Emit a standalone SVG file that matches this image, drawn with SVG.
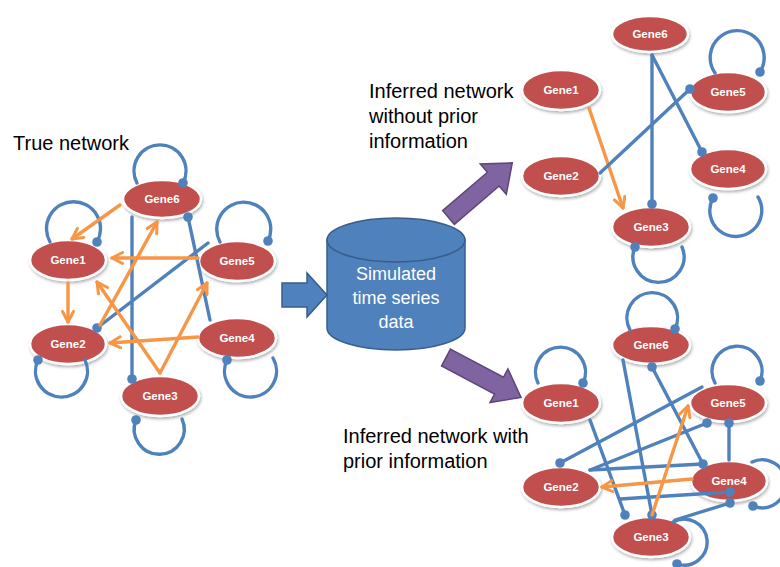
<svg xmlns="http://www.w3.org/2000/svg" width="780" height="567" viewBox="0 0 780 567">
<defs>
<filter id="sh" x="-20%" y="-20%" width="140%" height="150%">
<feDropShadow dx="1" dy="2" stdDeviation="1.5" flood-color="#000" flood-opacity="0.3"/>
</filter>
<marker id="ah" viewBox="0 0 14 14" refX="12" refY="7" markerWidth="14" markerHeight="14" markerUnits="userSpaceOnUse" orient="auto">
<path d="M1.5,1.5 L12,7 L1.5,12.5" fill="none" stroke="#F79646" stroke-width="3" stroke-linecap="round" stroke-linejoin="round"/>
</marker>
</defs>
<style>
.node ellipse{fill:#C0504D;stroke:#fff;stroke-width:2.5;filter:url(#sh)}
.node text{fill:#fff;font-family:"Liberation Sans",Arial,sans-serif;font-size:11.5px;font-weight:bold;text-anchor:middle}
.b{stroke:#4F81BD;stroke-width:3.4;fill:none;stroke-linecap:round}
.o{stroke:#F79646;stroke-width:3.4;fill:none;stroke-linecap:round;marker-end:url(#ah)}
.d{fill:#4F81BD}
.lbl{font-family:"Liberation Sans",Arial,sans-serif;font-size:20px;fill:#000}
.cyl{fill:#4F81BD;stroke:#385D8A;stroke-width:1.5}
.ct{font-family:"Liberation Sans",Arial,sans-serif;font-size:18px;fill:#fff;text-anchor:middle}
.pa{fill:#8064A2;stroke:#5C4776;stroke-width:1.5}
</style>

<text class="lbl" x="13" y="150">True network</text>
<text class="lbl" x="369" y="98">Inferred network</text>
<text class="lbl" x="369" y="123">without prior</text>
<text class="lbl" x="369" y="148">information</text>
<text class="lbl" x="343" y="443">Inferred network with</text>
<text class="lbl" x="343" y="468">prior information</text>

<g id="cylinder">
<path class="cyl" d="M327,240 L327,328 A69,22 0 0 0 465,328 L465,240 Z"/>
<ellipse class="cyl" cx="396" cy="240" rx="69" ry="22"/>
<text class="ct" x="396" y="280">Simulated</text>
<text class="ct" x="396" y="304">time series</text>
<text class="ct" x="396" y="328">data</text>
</g>
<g id="arrows">
<polygon class="cyl" points="282,283 307,283 307,273 327,295 307,317 307,307 282,307"/>
<polygon class="pa" points="0,-9 59,-9 59,-20 84,0 59,20 59,9 0,9" transform="translate(448.5,217.5) rotate(-40.6)"/>
<polygon class="pa" points="0,-9.5 60,-9.5 60,-19 85,0 60,19 60,9.5 0,9.5" transform="translate(446,357.5) rotate(28)"/>
</g>

<g id="true-network">
<g id="t-gene6" class="node"><ellipse cx="162" cy="199" rx="39" ry="19"/><text x="162" y="203">Gene6</text></g>
<g id="t-gene1" class="node"><ellipse cx="68" cy="260" rx="38" ry="20"/><text x="68" y="264">Gene1</text></g>
<g id="t-gene5" class="node"><ellipse cx="237" cy="261" rx="38" ry="20"/><text x="237" y="265">Gene5</text></g>
<g id="t-gene2" class="node"><ellipse cx="68" cy="344" rx="38" ry="20"/><text x="68" y="348">Gene2</text></g>
<g id="t-gene4" class="node"><ellipse cx="237" cy="338" rx="39" ry="20"/><text x="237" y="342">Gene4</text></g>
<g id="t-gene3" class="node"><ellipse cx="160" cy="396" rx="39" ry="20"/><text x="160" y="400">Gene3</text></g>
</g>

<g id="inferred-without">
<g id="a-gene6" class="node"><ellipse cx="650" cy="34" rx="38" ry="18"/><text x="650" y="38">Gene6</text></g>
<g id="a-gene1" class="node"><ellipse cx="561" cy="90" rx="39" ry="20"/><text x="561" y="94">Gene1</text></g>
<g id="a-gene5" class="node"><ellipse cx="728" cy="92" rx="38" ry="20"/><text x="728" y="96">Gene5</text></g>
<g id="a-gene2" class="node"><ellipse cx="561" cy="176" rx="39" ry="20"/><text x="561" y="180">Gene2</text></g>
<g id="a-gene4" class="node"><ellipse cx="728" cy="169" rx="38" ry="20"/><text x="728" y="173">Gene4</text></g>
<g id="a-gene3" class="node"><ellipse cx="651" cy="227" rx="39" ry="20"/><text x="651" y="231">Gene3</text></g>
</g>

<g id="inferred-with">
<g id="p-gene6" class="node"><ellipse cx="651" cy="345" rx="39" ry="19"/><text x="651" y="349">Gene6</text></g>
<g id="p-gene1" class="node"><ellipse cx="561" cy="403" rx="39" ry="20"/><text x="561" y="407">Gene1</text></g>
<g id="p-gene5" class="node"><ellipse cx="728" cy="403" rx="38" ry="19"/><text x="728" y="407">Gene5</text></g>
<g id="p-gene2" class="node"><ellipse cx="561" cy="487" rx="39" ry="20"/><text x="561" y="491">Gene2</text></g>
<g id="p-gene4" class="node"><ellipse cx="729" cy="481" rx="38" ry="20"/><text x="729" y="485">Gene4</text></g>
<g id="p-gene3" class="node"><ellipse cx="651" cy="537" rx="39" ry="20"/><text x="651" y="541">Gene3</text></g>
</g>

<g id="connectors">
<path class="b" d="M137,183 A26,26 0 1 1 183,183"/><circle class="d" cx="183" cy="183" r="4.8"/>
<path class="b" d="M50,242 A27,27 0 1 1 97,242"/><circle class="d" cx="97" cy="242" r="4.8"/>
<path class="b" d="M220,242 A27,27 0 1 1 268,241"/><circle class="d" cx="268" cy="241" r="4.8"/>
<path class="b" d="M38,360 A26,26 0 1 0 85,360"/><circle class="d" cx="38" cy="360" r="4.8"/>
<path class="b" d="M227,360 A26,26 0 1 0 273,358"/><circle class="d" cx="227" cy="360" r="4.8"/>
<path class="b" d="M136,420 A25,25 0 1 0 182,419"/><circle class="d" cx="136" cy="420" r="4.8"/>
<path class="b" d="M132,217 L132,379"/><circle class="d" cx="132" cy="379" r="4.8"/>
<path class="b" d="M210,320 L188,217"/><circle class="d" cx="188" cy="217" r="4.8"/>
<path class="b" d="M208,243 L97,328"/><circle class="d" cx="97" cy="328" r="4.8"/>
<path class="o" d="M120,205 L72,239"/>
<path class="o" d="M198,258 L112,258"/>
<path class="o" d="M68,283 L68,322"/>
<path class="o" d="M198,337 L110,343"/>
<path class="o" d="M160,373 L97,282"/>
<path class="o" d="M160,373 L207,283"/>
<path class="o" d="M100,325 L157,222"/>

<path class="b" d="M715,73 A27,27 0 1 1 760,72"/><circle class="d" cx="760" cy="72" r="4.8"/>
<path class="b" d="M713,198 A26,26 0 1 0 758,197"/><circle class="d" cx="713" cy="198" r="4.8"/>
<path class="b" d="M635,247 A25.5,25.5 0 1 0 682,247"/><circle class="d" cx="635" cy="247" r="4.8"/>
<path class="o" d="M589,108 L623,208"/>
<path class="b" d="M652,55 L652,204"/><circle class="d" cx="652" cy="204" r="4.8"/>
<path class="b" d="M652,55 L702,152"/><circle class="d" cx="702" cy="152" r="4.8"/>
<path class="b" d="M600,173 L690,89"/><circle class="d" cx="690" cy="89" r="4.8"/>

<path class="b" d="M630,330 A25.3,25.3 0 1 1 675,329"/><circle class="d" cx="675" cy="329" r="4.8"/>
<path class="b" d="M538,383 A25,25 0 1 1 583,383"/><circle class="d" cx="583" cy="383" r="4.8"/>
<path class="b" d="M715,383 A25,25 0 1 1 760,381"/><circle class="d" cx="760" cy="381" r="4.8"/>
<path class="b" d="M752,462 A24,24 0 1 1 753,506"/><circle class="d" cx="753" cy="506" r="4.8"/>
<path class="b" d="M673,522 A23,23 0 1 1 677,564"/><circle class="d" cx="677" cy="564" r="4.8"/>
<path class="b" d="M590,420 L625,515"/><circle class="d" cx="625" cy="515" r="4.8"/>
<path class="b" d="M623,360 L652,515"/><circle class="d" cx="652" cy="515" r="4.8"/>
<path class="b" d="M652,367 L703,464"/><circle class="d" cx="652" cy="367" r="4.8"/><circle class="d" cx="703" cy="464" r="4.8"/>
<path class="b" d="M702,387 L560,463"/><circle class="d" cx="560" cy="463" r="4.8"/>
<path class="b" d="M590,470 L707,423"/><circle class="d" cx="707" cy="423" r="4.8"/>
<path class="b" d="M590,470 L703,464"/>
<path class="b" d="M729,423 L729,460"/><circle class="d" cx="729" cy="423" r="4.8"/>
<path class="b" d="M620,499 L730,492"/><circle class="d" cx="730" cy="492" r="4.8"/>
<path class="b" d="M675,520 L730,503"/><circle class="d" cx="730" cy="503" r="4.8"/>
<path class="o" d="M652,515 L688,406"/>
<path class="o" d="M692,479 L602,487"/>
</g>
</svg>
